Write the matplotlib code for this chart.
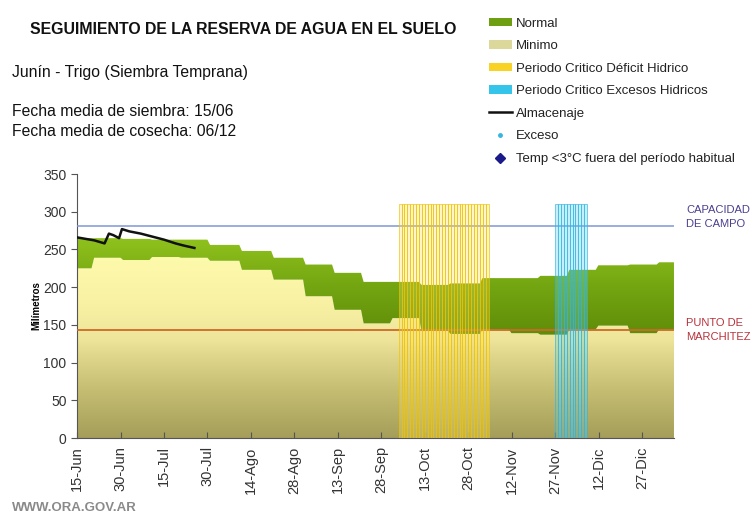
import numpy as np
import matplotlib
matplotlib.use("Agg")
import matplotlib.pyplot as plt
from matplotlib.colors import LinearSegmentedColormap
from matplotlib.patches import PathPatch, Patch
from matplotlib.lines import Line2D

plt.rcParams['font.family'] = ['Liberation Sans', 'DejaVu Sans']

# days counted from 15-Jun
step_start = [0, 5, 15, 25, 35, 45, 56, 67, 78, 88, 98, 108, 118, 128, 139, 149, 159, 169, 179, 190, 200]
day_end = 206
normal_top = [265, 265, 264, 263, 263, 256, 248, 239, 230, 219, 207, 207, 203, 205, 212, 212, 215, 223, 229, 230, 233]
normal_bottom = [225, 239, 236, 240, 239, 235, 223, 210, 188, 170, 152, 159, 142, 138, 144, 139, 137, 144, 149, 139, 144]

alm_day = [0, 3, 6, 9.5, 11, 12.5, 14.5, 15.5, 18, 22, 26, 30, 34, 37, 40.5]
alm_val = [266, 264, 262, 258, 271, 269, 265, 277, 274, 271, 267, 263, 258, 255, 252]

deficit_days = list(range(111, 142))
exceso_days = list(range(165, 176))
period_height = 310

capacidad_campo = 281
punto_marchitez = 143

tick_days = [0, 15, 30, 45, 60, 75, 90, 105, 120, 135, 150, 165, 180, 195]
tick_labels = ['15-Jun', '30-Jun', '15-Jul', '30-Jul', '14-Ago', '28-Ago', '13-Sep',
               '28-Sep', '13-Oct', '28-Oct', '12-Nov', '27-Nov', '12-Dic', '27-Dic']


def steps(starts, vals, end):
    # daily-style steps with a short ramp between decades
    xs, ys = [], []
    ends = starts[1:] + [end]
    for i, (s, e, v) in enumerate(zip(starts, ends, vals)):
        xs += [s + (0.9 if i else 0), e]
        ys += [v, v]
    return np.array(xs), np.array(ys)


fig = plt.figure(figsize=(7.56, 5.19), dpi=100)
ax = fig.add_axes([0.1019, 0.156, 0.7896, 0.5087])

x, top = steps(step_start, normal_top, day_end)
_, bot = steps(step_start, normal_bottom, day_end)

# Minimo area with vertical gradient
min_cmap = LinearSegmentedColormap.from_list('minimo', [
    (0.0, '#a49e5a'), (0.25, '#c6be72'), (0.42, '#e0d78c'),
    (0.5, '#eee59a'), (0.7, '#f9f2a4'), (1.0, '#fffcae')])
poly = ax.fill_between(x, 0, bot, color='none', linewidth=0)
patch = PathPatch(poly.get_paths()[0], transform=ax.transData, facecolor='none', edgecolor='none')
ax.add_patch(patch)
grad = np.linspace(0, 1, 256).reshape(-1, 1)
im = ax.imshow(grad, extent=[0, day_end, 0, 260], origin='lower', aspect='auto', cmap=min_cmap, zorder=1)
im.set_clip_path(patch)

# Normal band with gradient
nor_cmap = LinearSegmentedColormap.from_list('normal', ['#5f8c08', '#74a612', '#92c41e'])
poly2 = ax.fill_between(x, bot, top, color='none', linewidth=0)
patch2 = PathPatch(poly2.get_paths()[0], transform=ax.transData, facecolor='none', edgecolor='none')
ax.add_patch(patch2)
im2 = ax.imshow(grad, extent=[0, day_end, 135, 270], origin='lower', aspect='auto', cmap=nor_cmap, zorder=2)
im2.set_clip_path(patch2)

# reference lines
ax.axhline(capacidad_campo, color='#7f97d4', linewidth=1.1, zorder=3)
ax.axhline(punto_marchitez, color='#cc6a2a', linewidth=1.3, zorder=3)

# critical periods
ax.bar(deficit_days, [period_height] * len(deficit_days), width=1.0, align='edge',
       color=(1.0, 0.88, 0.35, 0.32), edgecolor=(0.93, 0.76, 0.0, 0.75), linewidth=0.6, zorder=4)
ax.bar(exceso_days, [period_height] * len(exceso_days), width=1.0, align='edge',
       color=(0.3, 0.82, 0.95, 0.32), edgecolor=(0.2, 0.7, 0.88, 0.75), linewidth=0.6, zorder=4)

# almacenaje
ax.plot(alm_day, alm_val, color='#111111', linewidth=1.8, zorder=5)

ax.set_xlim(0, day_end)
ax.set_ylim(0, 350)
ax.set_yticks(range(0, 351, 50))
ax.set_xticks(tick_days)
ax.set_xticklabels(tick_labels, rotation=90)
for s in ['top', 'right']:
    ax.spines[s].set_visible(False)
for s in ['left', 'bottom']:
    ax.spines[s].set_color('#555555')
ax.tick_params(axis='x', direction='in', length=4, colors='#555555', labelcolor='#333333', labelsize=10.5, pad=6)
ax.tick_params(axis='y', direction='out', length=4, colors='#555555', labelcolor='#333333', labelsize=10)
ax.set_ylabel('Milímetros', fontsize=7, fontweight='bold', labelpad=1)

ax.text(1.02, capacidad_campo + 12, 'CAPACIDAD\nDE CAMPO', transform=ax.get_yaxis_transform(),
        color='#4b3f8f', fontsize=8, va='center', ha='left', linespacing=1.45)
ax.text(1.02, punto_marchitez, 'PUNTO DE\nMARCHITEZ', transform=ax.get_yaxis_transform(),
        color='#b8323c', fontsize=8, va='center', ha='left', linespacing=1.45)

# header texts
fig.text(30 / 756, 1 - 30 / 519, 'SEGUIMIENTO DE LA RESERVA DE AGUA EN EL SUELO',
         fontsize=11.4, fontweight='bold', va='center', color='#111111')
fig.text(12 / 756, 1 - 73 / 519, 'Junín - Trigo (Siembra Temprana)', fontsize=11.3, va='center', color='#111111')
fig.text(12 / 756, 1 - 112 / 519, 'Fecha media de siembra: 15/06', fontsize=11.3, va='center', color='#111111')
fig.text(12 / 756, 1 - 132 / 519, 'Fecha media de cosecha: 06/12', fontsize=11.3, va='center', color='#111111')
fig.text(12 / 756, 1 - 508 / 519, 'WWW.ORA.GOV.AR', fontsize=9.5, va='center', color='#8a8a8a',
         fontweight='bold')

handles = [
    Patch(facecolor='#6e9e12', edgecolor='none'),
    Patch(facecolor='#dcd79a', edgecolor='none'),
    Patch(facecolor='#f8d224', edgecolor='none'),
    Patch(facecolor='#35c5ea', edgecolor='none'),
    Line2D([], [], color='#111111', linewidth=1.8),
    Line2D([], [], color='#35b5e0', marker='o', markersize=2.5, linestyle='none'),
    Line2D([], [], color='#1a1a8a', marker='D', markersize=5, linestyle='none'),
]
labels = ['Normal', 'Minimo', 'Periodo Critico Déficit Hidrico', 'Periodo Critico Excesos Hidricos',
          'Almacenaje', 'Exceso', 'Temp <3°C fuera del período habitual']
leg = fig.legend(handles, labels, loc='upper left', bbox_to_anchor=(482 / 756, 1 - 11 / 519),
                 frameon=False, fontsize=9.5, labelspacing=0.8, handlelength=1.75,
                 handleheight=0.6, handletextpad=0.3, borderpad=0)
for t in leg.get_texts():
    t.set_color('#222222')

fig.savefig('out.png', dpi=100)
